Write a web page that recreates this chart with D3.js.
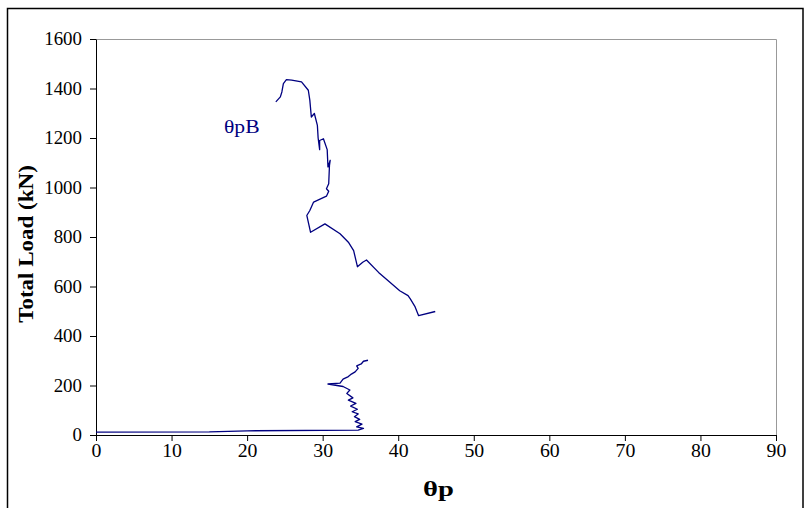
<!DOCTYPE html>
<html><head><meta charset="utf-8">
<script src="https://cdn.jsdelivr.net/npm/d3@7"></script>
<style>body{margin:0;background:#fff}svg{display:block}</style>
</head><body>
<svg id="c" width="808" height="508"></svg>
<script>
// θp (x) and total load in kN (y); null marks the gap in the record
const thetaP = [0, 15, 20, 34.7, 35.4, 34.5, 35.2, 34.3, 34.9, 34.2, 34.7, 33.9, 34.6, 33.7, 34.4, 33.4, 34.0, 33.2, 33.6, 32.7, 30.7, 32.3, 32.7, 33.4, 33.8, 34.3, 34.7, 34.5, 35.1, 35.4, 36.0,
  null,
  44.9, 42.7, 42.2, 41.6, 41.3, 40.2, 38.9, 37.4, 35.8, 35.3, 34.6, 34.1, 33.4, 32.3, 30.3, 28.4, 27.9, 28.3, 28.8, 30.5, 30.8, 30.5, 30.8, 30.9, 31.0, 30.7, 30.6, 30.1, 29.6, 29.6, 29.4, 29.3, 28.9, 28.5, 28.3, 28.1, 27.2, 25.9, 25.2, 24.8, 24.6, 24.4, 23.8];
const load = [12, 13, 17, 20, 27, 33, 44, 54, 63, 74, 85, 94, 104, 117, 128, 141, 150, 168, 182, 196, 206, 210, 226, 236, 246, 255, 269, 279, 287, 298, 302,
  null,
  499, 482, 520, 550, 563, 583, 617, 657, 707, 698, 680, 745, 779, 813, 853, 819, 887, 907, 941, 965, 985, 995, 1015, 1089, 1110, 1083, 1153, 1197, 1190, 1153, 1200, 1251, 1299, 1285, 1353, 1393, 1427, 1434, 1436, 1420, 1386, 1366, 1346];
const xTicks = [0, 10, 20, 30, 40, 50, 60, 70, 80, 90];
const yTicks = [0, 200, 400, 600, 800, 1000, 1200, 1400, 1600];
const seriesLabel = "θpB";
const xTitle = "θp";
const yTitle = "Total Load (kN)";

const svg = d3.select("#c");
const L = 96, R = 776, T = 39, B = 435;
const x = d3.scaleLinear().domain([0, 90]).range([L, R]);
const y = d3.scaleLinear().domain([0, 1600]).range([B, T]);
const font = "'Liberation Serif','Times New Roman',serif";

function stretch(sel, f) {
  sel.each(function () {
    const w = this.getComputedTextLength();
    d3.select(this).attr("textLength", w * f).attr("lengthAdjust", "spacingAndGlyphs");
  });
}

// outer chart border
svg.append("rect").attr("x", 7.5).attr("y", 8.5).attr("width", 795.5).attr("height", 520)
  .attr("fill", "none").attr("stroke", "#000").attr("stroke-width", 1.5);

// plot area border (top and right in gray)
svg.append("path").attr("d", `M${L},${T+0.5}H${R+0.5}V${B}`).attr("fill", "none").attr("stroke", "#999").attr("stroke-width", 1);

const xAxis = svg.append("g").attr("transform", `translate(0,${B})`)
  .call(d3.axisBottom(x).tickValues(xTicks).tickFormat(d3.format("d")).tickSize(6).tickSizeOuter(0).tickPadding(3));
const yAxis = svg.append("g").attr("transform", `translate(${L},0)`)
  .call(d3.axisLeft(y).tickValues(yTicks).tickFormat(d3.format("d")).tickSize(6).tickSizeOuter(0).tickPadding(8));
[xAxis, yAxis].forEach(g => {
  g.selectAll("path,line").attr("stroke", "#000");
  g.selectAll("text").attr("font-family", font).attr("font-size", 18).attr("fill", "#000");
});
stretch(yAxis.selectAll("text"), 1.05);
stretch(xAxis.selectAll("text"), 1.1);

const pts = thetaP.map((v, i) => [v, load[i]]);
const line = d3.line().defined(d => d[0] != null && d[1] != null).x(d => x(d[0])).y(d => y(d[1]));
svg.append("path").datum(pts).attr("d", line).attr("fill", "none")
  .attr("stroke", "#000080").attr("stroke-width", 1.3).attr("stroke-linejoin", "round");

const lab = svg.append("text").attr("x", 224).attr("y", 133).attr("font-family", font).attr("font-size", 18)
  .attr("fill", "#000080").text(seriesLabel);
stretch(lab, 1.2);

const xt = svg.append("text").attr("x", 423).attr("y", 496)
  .attr("font-family", font).attr("font-size", 22).attr("font-weight", "bold").text(xTitle);
stretch(xt, 1.3);
const yt = svg.append("text").attr("transform", `translate(33,244) rotate(-90)`).attr("text-anchor", "middle")
  .attr("font-family", font).attr("font-size", 20).attr("font-weight", "bold").text(yTitle);
stretch(yt, 1.15);
</script>
</body></html>
